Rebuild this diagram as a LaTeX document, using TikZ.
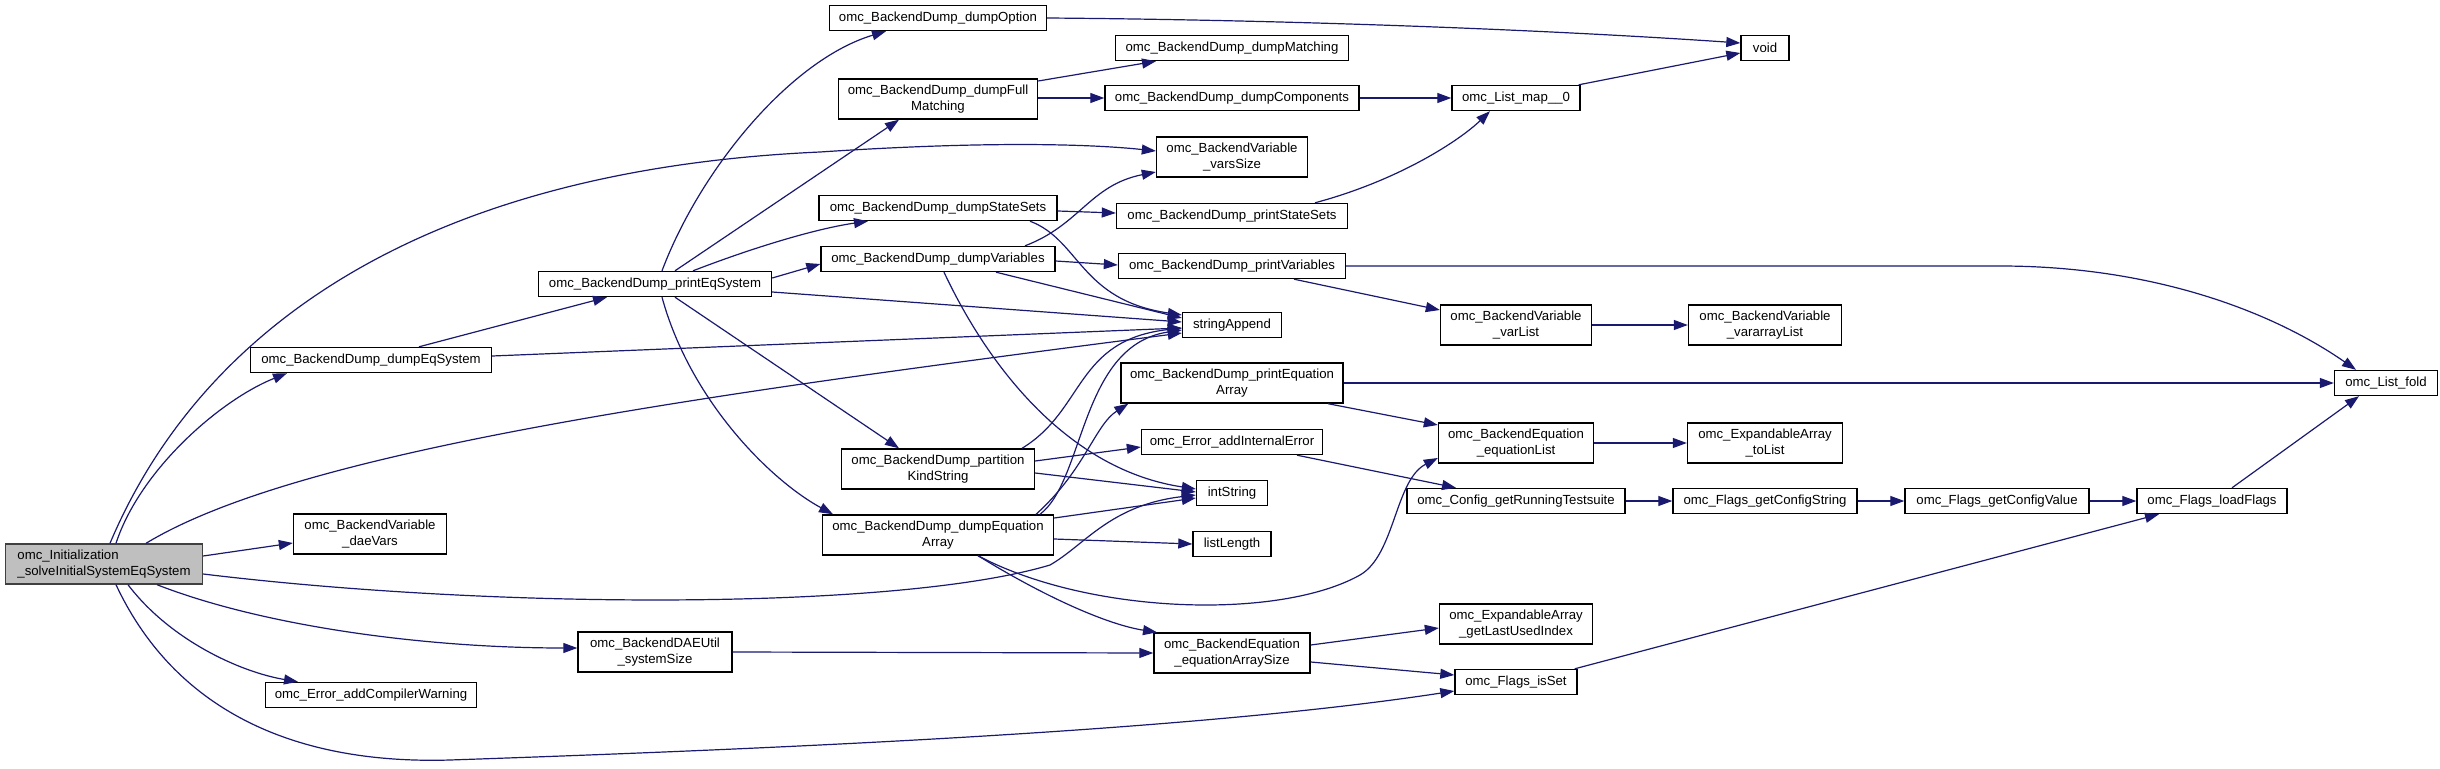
\documentclass[tikz,border=0pt]{standalone}
\usepackage{fontspec}
\setmainfont{Liberation Sans}
\usepackage{xcolor}
\usetikzlibrary{arrows.meta}

\definecolor{callblue}{HTML}{191970}
\definecolor{rootgray}{HTML}{BFBFBF}

\begin{document}
\begin{tikzpicture}[
    x=1pt, y=-1pt,
    func/.style={
        draw=black, line width=1.4pt, fill=white, minimum height=25pt,
        inner sep=0pt, align=center, font=\fontsize{13.2}{16}\selectfont
    },
    func2/.style={func, minimum height=40pt},
    root/.style={func2, draw=black!75, fill=rootgray, align=left},
    call/.style={-{Triangle[length=14pt, width=10pt]}, line width=1.2pt, callblue}
]
\useasboundingbox (0,0) rectangle (2440,768);

\node[root, minimum width=197pt] (init) at (104,564) {omc\_Initialization\\\_solveInitialSystemEqSystem};

\node[func, minimum width=241pt] (des) at (371,360) {omc\_BackendDump\_dumpEqSystem};
\node[func2, minimum width=153pt] (dv) at (370,534) {omc\_BackendVariable\\\_daeVars};
\node[func, minimum width=211pt] (cw) at (371,695) {omc\_Error\_addCompilerWarning};

\node[func, minimum width=233pt] (pes) at (655,284) {omc\_BackendDump\_printEqSystem};
\node[func2, minimum width=154pt] (ss) at (655,652) {omc\_BackendDAEUtil\\\_systemSize};

\node[func, minimum width=217pt] (dopt) at (938,18) {omc\_BackendDump\_dumpOption};
\node[func2, minimum width=199pt] (dfm) at (938,99) {omc\_BackendDump\_dumpFull\\Matching};
\node[func, minimum width=238pt] (dss) at (938,208) {omc\_BackendDump\_dumpStateSets};
\node[func, minimum width=234pt] (dva) at (938,259) {omc\_BackendDump\_dumpVariables};
\node[func2, minimum width=193pt] (pks) at (938,469) {omc\_BackendDump\_partition\\KindString};
\node[func2, minimum width=231pt] (dea) at (938,535) {omc\_BackendDump\_dumpEquation\\Array};

\node[func, minimum width=233pt] (dm) at (1232,48) {omc\_BackendDump\_dumpMatching};
\node[func, minimum width=254pt] (dc) at (1232,98) {omc\_BackendDump\_dumpComponents};
\node[func2, minimum width=151pt] (vs) at (1232,157) {omc\_BackendVariable\\\_varsSize};
\node[func, minimum width=231pt] (pss) at (1232,216) {omc\_BackendDump\_printStateSets};
\node[func, minimum width=227pt] (pv) at (1232,266) {omc\_BackendDump\_printVariables};
\node[func, minimum width=99pt] (sa) at (1232,325) {stringAppend};
\node[func2, minimum width=222pt] (pea) at (1232,383) {omc\_BackendDump\_printEquation\\Array};
\node[func, minimum width=181pt] (aie) at (1232,442) {omc\_Error\_addInternalError};
\node[func, minimum width=71pt] (is) at (1232,493) {intString};
\node[func, minimum width=78pt] (ll) at (1232,544) {listLength};
\node[func2, minimum width=156pt] (eas) at (1232,653) {omc\_BackendEquation\\\_equationArraySize};

\node[func, minimum width=128pt] (lm) at (1516,98) {omc\_List\_map\_\_0};
\node[func2, minimum width=151pt] (vl) at (1516,325) {omc\_BackendVariable\\\_varList};
\node[func2, minimum width=155pt] (el) at (1516,443) {omc\_BackendEquation\\\_equationList};
\node[func, minimum width=218pt] (grt) at (1516,501) {omc\_Config\_getRunningTestsuite};
\node[func2, minimum width=153pt] (glu) at (1516,624) {omc\_ExpandableArray\\\_getLastUsedIndex};
\node[func, minimum width=122pt] (fis) at (1516,682) {omc\_Flags\_isSet};

\node[func, minimum width=48pt] (void) at (1765,48) {void};
\node[func2, minimum width=153pt] (val) at (1765,325) {omc\_BackendVariable\\\_vararrayList};
\node[func2, minimum width=155pt] (tl) at (1765,443) {omc\_ExpandableArray\\\_toList};
\node[func, minimum width=184pt] (gcs) at (1765,501) {omc\_Flags\_getConfigString};
\node[func, minimum width=184pt] (gcv) at (1997,501) {omc\_Flags\_getConfigValue};
\node[func, minimum width=150pt] (lf) at (2212,501) {omc\_Flags\_loadFlags};
\node[func, minimum width=103pt] (fold) at (2386,383) {omc\_List\_fold};

\draw[call] ([xshift=12pt]init.north) .. controls (140,470) and (220,400) .. ([xshift=-84pt]des.south);
\draw[call] ([xshift=6pt]init.north) .. controls (200,330) and (420,170) .. (820,152) .. controls (1000,140) and (1100,145) .. ([yshift=6pt]vs.west);
\draw[call] ([xshift=42pt]init.north) .. controls (300,450) and (700,395) .. ([yshift=-8pt]sa.west);
\draw[call] ([yshift=8pt]init.east) -- ([yshift=-9pt]dv.west);
\draw[call] ([yshift=-10pt]init.east) .. controls (500,610) and (900,610) .. (1050,565) .. controls (1085,545) and (1110,505) .. ([yshift=-2pt]is.west);
\draw[call] ([xshift=53pt]init.south) .. controls (260,625) and (420,648) .. ([yshift=4pt]ss.west);
\draw[call] ([xshift=24pt]init.south) .. controls (170,640) and (240,672) .. ([xshift=-73pt]cw.north);
\draw[call] ([xshift=12pt]init.south) .. controls (170,700) and (280,765) .. (450,760) .. controls (800,748) and (1200,730) .. ([yshift=-9pt]fis.west);

\draw[call] ([xshift=48pt]des.north) -- ([xshift=-48pt]pes.south);
\draw[call] ([yshift=4pt]des.east) -- ([yshift=-3pt]sa.west);

\draw[call] ([xshift=7pt]pes.north) .. controls (700,170) and (790,60) .. ([xshift=-52pt]dopt.south);
\draw[call] ([xshift=20pt]pes.north) -- ([xshift=-39pt]dfm.south);
\draw[call] ([xshift=38pt]pes.north) .. controls (760,245) and (820,228) .. ([xshift=-70pt]dss.south);
\draw[call] ([yshift=6pt]pes.east) -- ([yshift=-5pt]dva.west);
\draw[call] ([yshift=-8pt]pes.east) -- ([yshift=3pt]sa.west);
\draw[call] ([xshift=20pt]pes.south) -- ([xshift=-39pt]pks.north);
\draw[call] ([xshift=7pt]pes.south) .. controls (690,400) and (770,480) .. ([xshift=-105pt]dea.north);

\draw[call] ([yshift=18pt]dfm.east) -- ([xshift=-76pt]dm.south);
\draw[call] ([yshift=1pt]dfm.east) -- (dc.west);
\draw[call] (dc.east) -- (lm.west);
\draw[call] ([xshift=-2pt]lm.north east) -- ([yshift=-5pt]void.west);
\draw[call] (dopt.east) .. controls (1300,20) and (1550,30) .. ([yshift=5pt]void.west);
\draw[call] ([xshift=83pt]pss.north) .. controls (1400,180) and (1460,140) .. ([xshift=-26pt]lm.south);

\draw[call] ([yshift=-3pt]dss.east) -- ([yshift=3pt]pss.west);
\draw[call] ([xshift=92pt]dss.south) .. controls (1080,240) and (1080,300) .. ([yshift=10pt]sa.west);

\draw[call] ([xshift=87pt]dva.north) .. controls (1080,225) and (1090,185) .. ([yshift=-15pt]vs.west);
\draw[call] ([yshift=-2pt]dva.east) -- ([yshift=1pt]pv.west);
\draw[call] ([xshift=58pt]dva.south) -- ([yshift=7pt]sa.west);
\draw[call] ([xshift=6pt]dva.south) .. controls (990,370) and (1070,470) .. ([yshift=4pt]is.west);

\draw[call] (pv.east) -- (2000,266) .. controls (2150,266) and (2270,310) .. ([xshift=-30pt]fold.north);
\draw[call] ([xshift=62pt]pv.south) -- ([yshift=15pt]vl.west);
\draw[call] (vl.east) -- (val.west);

\draw[call] (pea.east) -- (fold.west);
\draw[call] ([xshift=96pt]pea.south) -- ([yshift=18pt]el.west);

\draw[call] ([xshift=84pt]pks.north) .. controls (1085,410) and (1075,340) .. ([yshift=-3pt]sa.west);
\draw[call] ([yshift=8pt]pks.east) -- ([yshift=-5pt]aie.west);
\draw[call] ([yshift=-4pt]pks.east) -- ([yshift=1pt]is.west);
\draw[call] ([xshift=65pt]aie.south) -- ([xshift=-60pt]grt.north);

\draw[call] ([xshift=102pt]dea.north) .. controls (1085,480) and (1080,345) .. ([yshift=-5pt]sa.west);
\draw[call] ([xshift=98pt]dea.north) .. controls (1085,470) and (1095,425) .. ([xshift=8pt]pea.south west);
\draw[call] ([yshift=17pt]dea.east) -- ([yshift=-5pt]is.west);
\draw[call] ([yshift=-4pt]dea.east) -- (ll.west);
\draw[call] ([xshift=40pt]dea.south) .. controls (1090,615) and (1280,620) .. (1360,575) .. controls (1395,555) and (1395,480) .. ([yshift=-15pt]el.west);
\draw[call] ([xshift=40pt]dea.south) .. controls (1050,600) and (1110,625) .. ([xshift=-75pt]eas.north);

\draw[call] (el.east) -- (tl.west);
\draw[call] (ss.east) -- (eas.west);
\draw[call] ([yshift=8pt]eas.east) -- ([yshift=-4pt]glu.west);
\draw[call] ([yshift=-9pt]eas.east) -- ([yshift=7pt]fis.west);
\draw[call] ([xshift=-3pt]fis.north east) -- ([xshift=-53pt]lf.south);
\draw[call] (grt.east) -- (gcs.west);
\draw[call] (gcs.east) -- (gcv.west);
\draw[call] (gcv.east) -- (lf.west);
\draw[call] ([xshift=20pt]lf.north) -- ([xshift=-27pt]fold.south);

\end{tikzpicture}
\end{document}
